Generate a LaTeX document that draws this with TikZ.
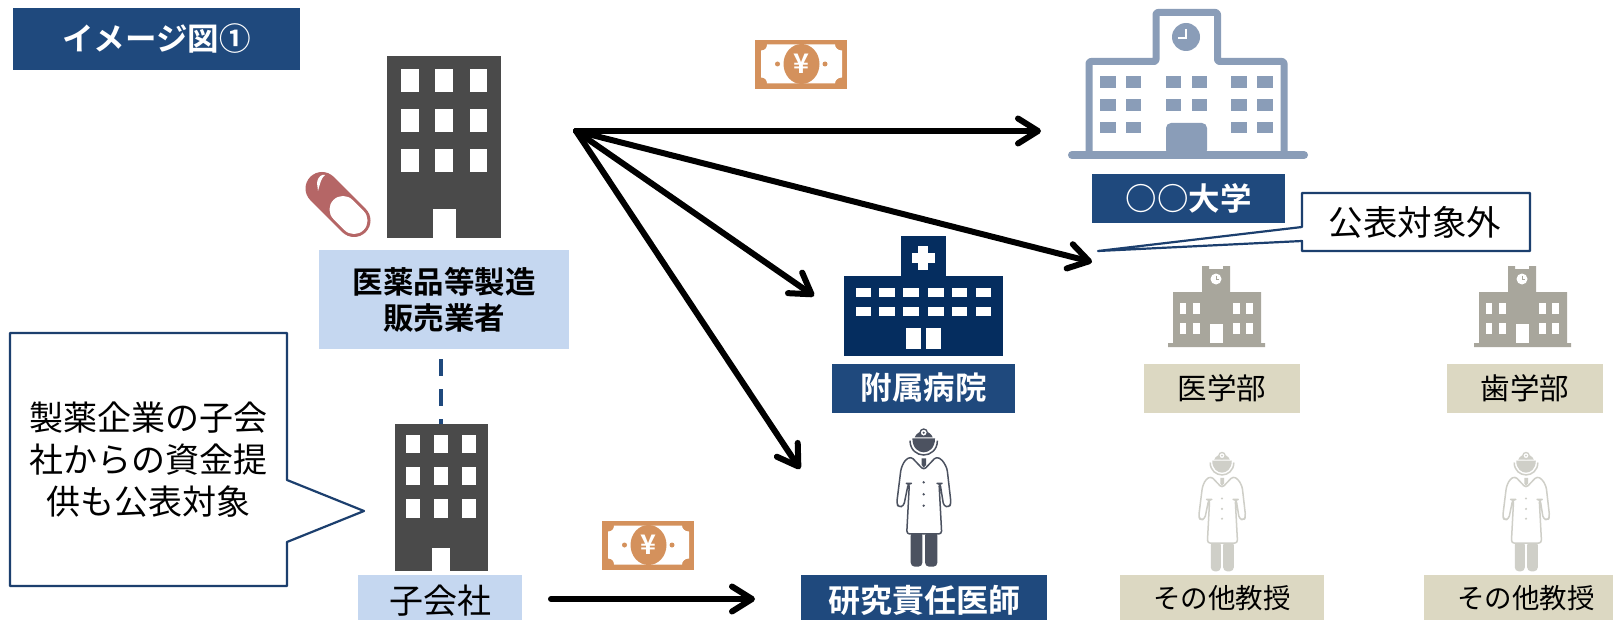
\documentclass[tikz,border=0pt]{standalone}
\usepackage{fontspec}
\setmainfont{Noto Sans CJK JP}[BoldFont={Noto Sans CJK JP Bold}]
\newfontfamily\thinfont{Noto Sans CJK JP Light}
\usetikzlibrary{arrows.meta,calc}
\definecolor{navy}{HTML}{1F497D}
\definecolor{navyline}{HTML}{1C3F6E}
\definecolor{hosp}{HTML}{052D5F}
\definecolor{lightblue}{HTML}{C5D7F0}
\definecolor{khaki}{HTML}{DCD8C2}
\definecolor{bldg}{HTML}{4A4A4A}
\definecolor{unib}{HTML}{8A9DB8}
\definecolor{grayb}{HTML}{A8A69C}
\definecolor{moneyc}{HTML}{D4915C}
\definecolor{pill}{HTML}{B56666}
\definecolor{docd}{HTML}{4C5260}
\definecolor{docg}{HTML}{CFCFC8}
\tikzset{
  boxnode/.style={inner sep=0pt,outer sep=0pt,align=center},
  darklabel/.style={boxnode,fill=navy,text=white,font=\bfseries\fontsize{31.5}{36}\selectfont},
  bluelabel/.style={boxnode,fill=lightblue,text=black},
  khakilabel/.style={boxnode,fill=khaki,text=black,font=\fontsize{29.5}{35}\selectfont},
  flow/.style={line width=6pt,line cap=round,-{Straight Barb[length=20pt,width=25pt,line width=6pt,round]}},
  callout/.style={draw=navyline,line width=2.2pt,fill=white,line join=round},
  bubbletext/.style={inner sep=0pt,outer sep=0pt,align=center,font=\fontsize{34}{42}\selectfont},
  mass/.style={inner sep=0pt,outer sep=0pt}
}
\newcommand{\windows}[3]{\foreach \wx/\wxx in {#1}{\foreach \wy/\wyy in {#2}{\fill[#3] (\wx,\wy) rectangle (\wxx,\wyy);}}}
\newcommand{\moneyicon}[2]{%
\begin{scope}[shift={(#1,#2)}]
 \fill[moneyc] (0,0) rectangle (92,49);
 \fill[white] (12,4.5) -- (80,4.5)
   .. controls (80,8) and (83,10.5) .. (87,10.5) -- (87,37.5)
   .. controls (83,37.5) and (80,40) .. (80,43.5) -- (12,43.5)
   .. controls (12,40) and (10,37.5) .. (6,37.5) -- (6,10.5)
   .. controls (10,10.5) and (12,8) .. (12,4.5) -- cycle;
 \fill[moneyc] (46.5,24) ellipse[x radius=18,y radius=20];
 \fill[moneyc] (22.5,24) circle[radius=2.5] (70,24) circle[radius=2.5];
 \node[inner sep=0pt,text=white,font=\bfseries\fontsize{27}{27}\selectfont] at (46.5,23.5) {¥};
\end{scope}}
\newcommand{\doctoricon}[5]{%
\begin{scope}[shift={(#1,#2)},x=#3pt,y=-#3pt]
 \fill[#4,rounded corners=4pt] (-39,335) rectangle (-4,440);
 \fill[#4,rounded corners=4pt] (4,335) rectangle (41,440);
 \filldraw[fill=white,draw=#5,line width=1.5pt,line join=round,rounded corners=3pt]
  (0,150) -- (-38,110) -- (-56,120) -- (-68,145) -- (-81,250) -- (-75,262) -- (-60,258) -- (-46,190) -- (-43,190) -- (-51,342) -- (54,342) -- (46,190) -- (49,190) -- (60,258) -- (76,262) -- (82,250) -- (70,145) -- (56,120) -- (38,110) -- cycle;
 \fill[#4] (-6,115) -- (7,115) -- (7,135) -- (0,143) -- (-6,135) -- cycle;
 \foreach \by in {187,223,257}{\fill[#4] (0,\by) circle[radius=4];}
 \fill[#4] (-34,55) .. controls (-34,85) and (-15,97) .. (0,97) .. controls (15,97) and (34,85) .. (34,55) -- cycle;
 \draw[#5,line width=1.5pt] (-41,62) .. controls (-41,90) and (-20,105) .. (0,105) .. controls (20,105) and (41,90) .. (41,62);
 \fill[#4] (-27,52) .. controls (-18,28) and (18,28) .. (27,52) -- cycle;
 \filldraw[fill=white,draw=#5,line width=1.3pt] (0,38) circle[radius=11];
 \fill[#4] (0,38) circle[radius=3.5];
\end{scope}}
\newcommand{\smallschool}[1]{%
\begin{scope}[shift={(#1,0)}]
 \fill[grayb] (1202,266) -- (1209,266) -- (1209,269) -- (1223,269) -- (1223,266) -- (1230,266) -- (1230,292) -- (1261,292) -- (1261,343) -- (1265,343) -- (1265,347) -- (1168,347) -- (1168,343) -- (1173,343) -- (1173,292) -- (1202,292) -- cycle;
 \fill[white] (1216,279) circle[radius=5.5];
 \draw[grayb,line width=1pt] (1216,275.5) -- (1216,279) -- (1219,279);
 \windows{1180/1186,1193/1200,1233/1240,1246/1253}{303/314,323/334}{white}
 \fill[white] (1210,324) rectangle (1223,343);
\end{scope}}
\begin{document}
\begin{tikzpicture}[x=1pt,y=-1pt]
\useasboundingbox[fill=white] (0,0) rectangle (1613,620);

% title
\node[darklabel,minimum width=287pt,minimum height=62pt] (title) at (156.5,39) {イメージ図①};

% connector sits under the label and the block
\node[mass,fill=bldg,minimum width=93pt,minimum height=147pt] (sub) at (441,497.5) {};
\node[bluelabel,minimum width=250pt,minimum height=99pt,font=\bfseries\fontsize{30.5}{36}\selectfont] (maker) at (444,299.5) {医薬品等製造\\販売業者};
\draw[navy,line width=3.5pt,dash pattern=on 17pt off 13pt,dash phase=20pt] (sub.north |- maker.south) -- (sub.north);

% main office block
\node[mass,fill=bldg,minimum width=114pt,minimum height=182pt] (office) at (444,147) {};
\windows{401/419,435/453,470/487}{69/92,109/132,149/172}{white}
\fill[white] (432.5,209) rectangle (456,238);

% pill
\draw[pill,line width=33pt,line cap=round] (322,188.5) -- (354,220.5);
\draw[white,line width=27pt,line cap=round] (343,209.5) -- (354,220.5);
\fill[white] (317,183) .. controls (318,176) and (322,174) .. (325,175) .. controls (321,178) and (320,184) .. (318,191) -- cycle;

% subsidiary block details
\windows{406/420,434/448,462/476}{435/453,467/485,499/518}{white}
\fill[white] (432,548) rectangle (450,571);
\node[bluelabel,minimum width=164pt,minimum height=52pt,font=\fontsize{34}{40}\selectfont] (subl) at (440,601) {子会社};

% left callout
\draw[callout] (10,333) -- (287,333) -- (287,480) -- (364,511) -- (287,542) -- (287,586) -- (10,586) -- cycle;
\node[bubbletext] (ltext) at (148.5,460) {製薬企業の子会\\社からの資金提\\供も公表対象};

% money
\moneyicon{755}{40}
\moneyicon{602}{521}

% university
\draw[unib,line width=7pt,rounded corners=2pt,line join=round] (1089,155) -- (1089,61.5) -- (1156,61.5) -- (1156,12.5) -- (1217.5,12.5) -- (1217.5,61.5) -- (1284,61.5) -- (1284,155);
\draw[unib,line width=8pt,line cap=round] (1072,155) -- (1304,155);
\windows{1100/1116,1126/1141,1231/1247,1257/1272.6}{76/88,99/111,122/133}{unib}
\windows{1166/1181,1191.5/1207}{76/88,99/111}{unib}
\fill[unib,rounded corners=5pt] (1166,155) -- (1166,123) -- (1207,123) -- (1207,155) -- cycle;
\fill[unib] (1186,37) circle[radius=14];
\draw[white,line width=1.5pt] (1186,29) -- (1186,38) -- (1178,38);
\node[darklabel,minimum width=193pt,minimum height=49pt] (univ) at (1188.5,198.5) {{\thinfont ○○}大学};

% outside-scope callout
\coordinate (ctip) at (1098,251);
\draw[callout] (1302,193) -- (1530,193) -- (1530,251) -- (1302,251) -- (1302,241) -- (ctip) -- (1302,227) -- cycle;
\node[bubbletext,font=\fontsize{34.5}{40}\selectfont] (ctext) at (1415,222) {公表対象外};

% hospital
\fill[hosp] (901,236) rectangle (946,276);
\node[mass,fill=hosp,minimum width=159pt,minimum height=80pt] (hospital) at (923.5,316) {};
\fill[white] (918,246.5) rectangle (928,269.5);
\fill[white] (911.5,253) rectangle (934.5,263);
\windows{856/871,879/895,903/919,928/944,952/967,976/991}{288/297,307/316}{white}
\fill[white] (906,328) rectangle (921,349);
\fill[white] (926,328) rectangle (941,349);
\node[darklabel,minimum width=183pt,minimum height=49pt] (hospl) at (923.5,388) {附属病院};

% small schools
\smallschool{0}
\smallschool{306}
\node[khakilabel,minimum width=156pt,minimum height=49pt] (igaku) at (1222,388) {医学部};
\node[khakilabel,minimum width=156pt,minimum height=49pt] (shigaku) at (1525,388) {歯学部};

% doctors
\doctoricon{923.7}{420}{0.3333}{docd}{docd}
\doctoricon{1222}{444.7}{0.2878}{docg}{docg}
\doctoricon{1526}{444.7}{0.2878}{docg}{docg}
\node[darklabel,minimum width=246pt,minimum height=50pt,font=\bfseries\fontsize{32}{36}\selectfont] (pi) at (924,600) {研究責任医師};
\node[khakilabel,minimum width=204pt,minimum height=46pt,font=\fontsize{27.5}{33}\selectfont] (prof1) at (1222,598) {その他教授};
\node[khakilabel,minimum width=204pt,minimum height=46pt,font=\fontsize{27.5}{33}\selectfont] (prof2) at (1526,598) {その他教授};

% flows
\coordinate (src) at (576,131);
\coordinate (t1) at (1041,131);
\coordinate (t2) at (1092,262);
\coordinate (t3) at (814,296);
\coordinate (t4) at (800,469);
\coordinate (s5) at (551,599);
\coordinate (t5) at (755,599);
\draw[flow] (src) -- (t1);
\draw[flow] (src) -- (t2);
\draw[flow] (src) -- (t3);
\draw[flow] (src) -- (t4);
\draw[flow] (s5) -- (t5);
\end{tikzpicture}
\end{document}
